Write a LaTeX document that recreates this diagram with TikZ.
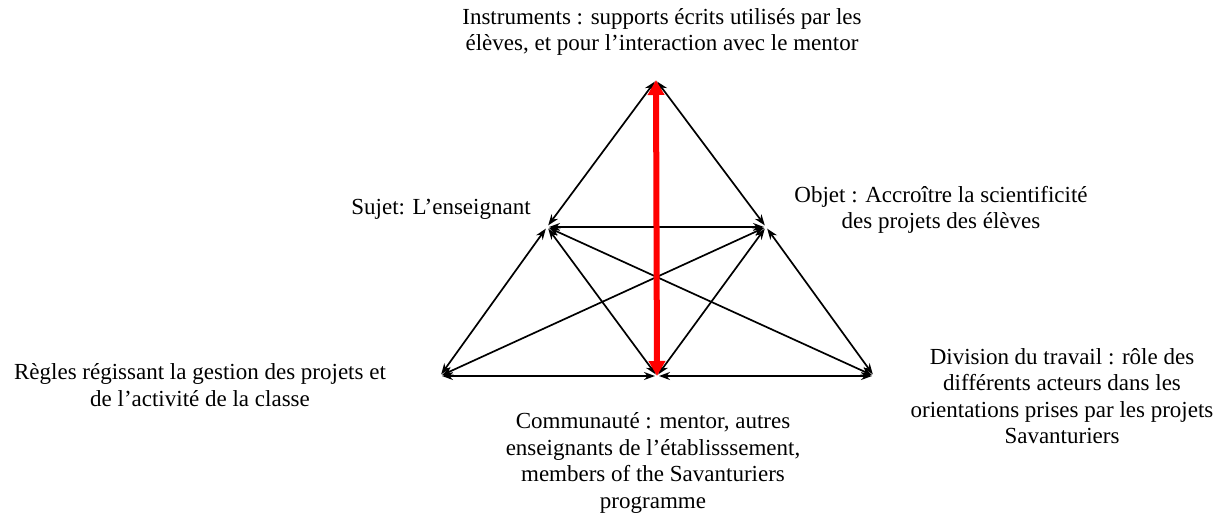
\documentclass[tikz,border=0pt]{standalone}
\usepackage{fontspec}
\setmainfont{Liberation Serif}
\usetikzlibrary{arrows.meta, positioning}

\begin{document}
\begin{tikzpicture}[
x=1pt, y=-1pt,
lbl/.style={align=center, font=\fontsize{23}{26.5}\selectfont, inner sep=0pt},
link/.style={{Stealth[length=11pt, width=8pt]}-{Stealth[length=11pt, width=8pt]}, line width=1.7pt, shorten >=2pt, shorten <=2pt},
main/.style={{Triangle[length=15pt, width=16pt]}-{Triangle[length=15pt, width=16pt]}, red, line width=6pt}
]
\useasboundingbox (0,0) rectangle (1224,517);
% sommets du triangle
\coordinate (instr) at (656,80);
\coordinate (suj) at (547,227);
\coordinate (obj) at (766,227);
\coordinate (regl) at (440,376);
\coordinate (comm) at (657,376);
\coordinate (div) at (874,376);

% textes
\node[lbl] (tinstr) at (662,32) {Instruments : supports écrits utilisés par les\\élèves, et pour l’interaction avec le mentor};
\node[lbl] (tsuj) at (441,209) {Sujet: L’enseignant};
\node[lbl] (tobj) at (941,210) {Objet : Accroître la scientificité\\des projets des élèves};
\node[lbl] (tregl) at (200,385) {Règles régissant la gestion des projets et\\de l’activité de la classe};
\node[lbl] (tdiv) at (1062,396) {Division du travail : rôle des\\différents acteurs dans les\\orientations prises par les projets\\Savanturiers};
\node[lbl] (tcomm) at (653,463) {Communauté : mentor, autres\\enseignants de l’établisssement,\\members of the Savanturiers\\programme};

% liaisons
\draw[link] (instr) -- (suj);
\draw[link] (instr) -- (obj);
\draw[link] (suj) -- (obj);
\draw[link] (suj) -- (regl);
\draw[link] (suj) -- (comm);
\draw[link] (suj) -- (div);
\draw[link] (obj) -- (regl);
\draw[link] (obj) -- (comm);
\draw[link] (obj) -- (div);
\draw[link] (regl) -- (comm);
\draw[link] (comm) -- (div);
\draw[main] (instr) -- (comm);
\end{tikzpicture}
\end{document}
